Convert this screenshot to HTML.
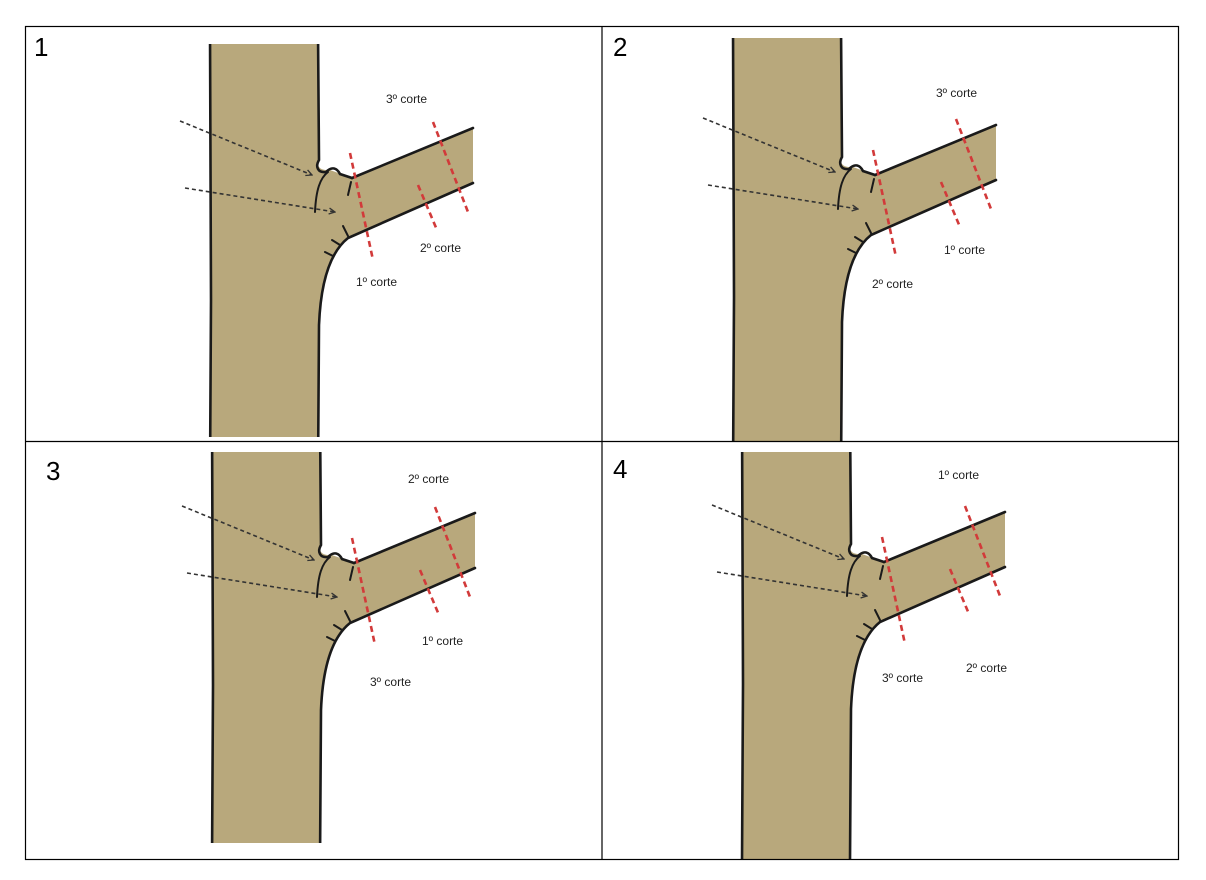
<!DOCTYPE html>
<html><head><meta charset="utf-8"><style>
html,body{margin:0;padding:0;background:#fff;width:1206px;height:880px;overflow:hidden;}
svg{display:block;}
text{font-family:"Liberation Sans","DejaVu Sans",sans-serif;}
</style></head><body>
<svg width="1206" height="880" viewBox="0 0 1206 880" xmlns="http://www.w3.org/2000/svg">
<defs>
<clipPath id="c1"><rect x="150" y="44" width="440" height="393"/></clipPath>
<clipPath id="c2"><rect x="650" y="38" width="520" height="403"/></clipPath>
<clipPath id="c3"><rect x="150" y="452" width="440" height="391"/></clipPath>
<clipPath id="c4"><rect x="650" y="452" width="520" height="407"/></clipPath>
<marker id="ah" markerWidth="8" markerHeight="8" refX="7" refY="4" orient="auto" markerUnits="userSpaceOnUse"><path d="M1,1 L7,4 L1,7" fill="none" stroke="#333" stroke-width="1.3"/></marker>
<g id="tree">
  <path d="M210,30 L318,30 L319,160 C316,166 320,171 330,170 L352,178 L473,128 L473,183 L348,238 C333,250 321,275 319,325 L318,478 L210,478 Z" fill="#b8a87c"/>
  <g fill="none" stroke="#1a1a1a" stroke-width="2.6" stroke-linecap="round">
    <path d="M210,30 L211,300 L210,478"/>
    <path d="M318,30 L319,160 C315,167 318,173 326,172 C332,166 337,168 340,174 L352,178"/>
    <path d="M352,178 L473,128"/>
    <path d="M473,183 L348,238 C333,250 321,275 319,325 L318,478"/>
    <path d="M328,172 C320,178 316,190 315,212" stroke-width="2"/>
    <path d="M351,182 L348,195" stroke-width="2"/>
    <path d="M348,236 L343,226" stroke-width="2"/>
    <path d="M340,245 L332,240" stroke-width="2"/>
    <path d="M333,256 L325,252" stroke-width="2"/>
  </g>
  <g stroke="#d23a3a" stroke-width="2.6" stroke-dasharray="6,4" fill="none">
    <line x1="350" y1="153" x2="373" y2="260"/>
    <line x1="418" y1="185" x2="437" y2="230"/>
    <line x1="433" y1="122" x2="468" y2="212"/>
  </g>
  <g stroke="#333" stroke-width="1.6" stroke-dasharray="4,3" fill="none" marker-end="url(#ah)">
    <line x1="180" y1="121" x2="312" y2="175"/>
    <line x1="185" y1="188" x2="335" y2="212"/>
  </g>
</g>
</defs>
<g clip-path="url(#c1)"><use href="#tree" transform="translate(0,0)"/></g>
<g clip-path="url(#c2)"><use href="#tree" transform="translate(523,-3)"/></g>
<g clip-path="url(#c3)"><use href="#tree" transform="translate(2,385)"/></g>
<g clip-path="url(#c4)"><use href="#tree" transform="translate(532,384)"/></g>
<g fill="none" stroke="#000" stroke-width="1.2">
<rect x="25.5" y="26.5" width="1153" height="833"/>
<line x1="602" y1="26" x2="602" y2="860"/>
<line x1="25" y1="441.5" x2="1179" y2="441.5"/>
</g>
<g font-size="26" fill="#000">
<text x="34" y="56">1</text><text x="613" y="56">2</text>
<text x="46" y="480">3</text><text x="613" y="478">4</text>
</g>
<g font-size="12" fill="#222">
<text x="386" y="103">3º corte</text><text x="420" y="252">2º corte</text><text x="356" y="286">1º corte</text>
<text x="936" y="97">3º corte</text><text x="944" y="254">1º corte</text><text x="872" y="288">2º corte</text>
<text x="408" y="483">2º corte</text><text x="422" y="645">1º corte</text><text x="370" y="686">3º corte</text>
<text x="938" y="479">1º corte</text><text x="966" y="672">2º corte</text><text x="882" y="682">3º corte</text>
</g>
</svg>
</body></html>
